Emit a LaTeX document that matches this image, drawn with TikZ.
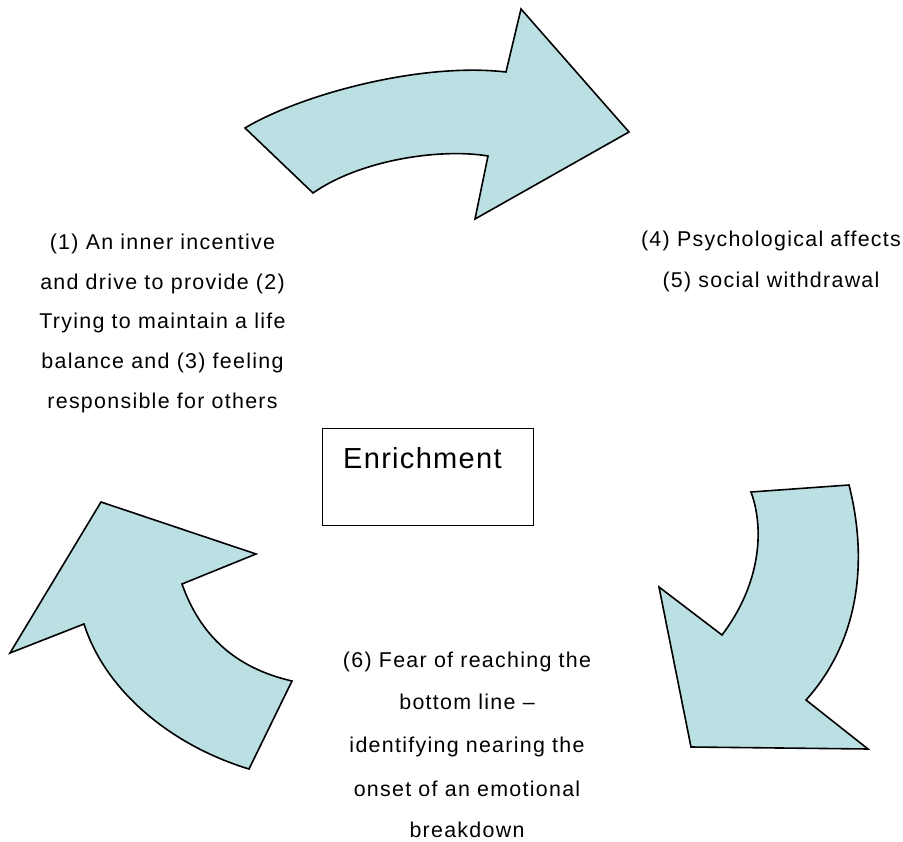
\documentclass[tikz,border=0pt]{standalone}
\usepackage{fontspec}
\newfontfamily\bodyfont[LetterSpace=6]{Liberation Sans}
\newfontfamily\titlefont[LetterSpace=4.5]{Liberation Sans}
\definecolor{arrowfill}{RGB}{187,224,227}
\begin{document}
\begin{tikzpicture}[x=1pt,y=-1pt,
  arrowshape/.style={fill=arrowfill, draw=black, line width=1.6pt, line join=miter},
  txt/.style={font=\bodyfont\fontsize{21.4}{25}\selectfont, inner sep=0pt, anchor=base},
  boxstyle/.style={draw=black, line width=1.2pt, inner sep=0pt, anchor=north west}]
\useasboundingbox (0,0) rectangle (903,842);
% top arrow
\path[arrowshape] (245,128) .. controls (300,95) and (420,62) .. (506,72) -- (521,9) -- (629,132) -- (475,219) -- (488,156) .. controls (440,148) and (360,160) .. (313,193) -- cycle;
% right arrow
\path[arrowshape] (751,492) -- (849,485) .. controls (868,560) and (860,640) .. (806,700) -- (868,749) -- (691,747) -- (659,587) -- (722,635) .. controls (760,585) and (765,530) .. (751,492) -- cycle;
% left arrow
\path[arrowshape] (101,502) -- (256,554) -- (182,584) .. controls (200,635) and (235,668) .. (292,681) -- (249,769) .. controls (170,745) and (105,690) .. (84,624) -- (10,653) -- cycle;
% box
\node (box) [boxstyle, minimum width=211pt, minimum height=97pt] at (322,428) {};
\node (enr) [font=\titlefont\fontsize{29}{34}\selectfont, inner sep=0pt, anchor=base west] at (343,468) {Enrichment};
% left text
\node (l1) [txt] at (162.5,250) {(1) An inner incentive};
\node (l2) [txt] at (162.5,289.5) {and drive to provide (2)};
\node (l3) [txt] at (162.5,329) {Trying to maintain a life};
\node (l4) [txt] at (162.5,369) {balance and (3) feeling};
\node (l5) [txt] at (162.5,409) {responsible for others};
% right text
\node (r1) [txt] at (771,247) {(4) Psychological affects};
\node (r2) [txt] at (771,288) {(5) social withdrawal};
% bottom text
\node (b1) [txt] at (467,667) {(6) Fear of reaching the};
\node (b2) [txt] at (467,709) {bottom line –};
\node (b3) [txt] at (467,752) {identifying nearing the};
\node (b4) [txt] at (467,796) {onset of an emotional};
\node (b5) [txt] at (467,837) {breakdown};
\end{tikzpicture}
\end{document}
